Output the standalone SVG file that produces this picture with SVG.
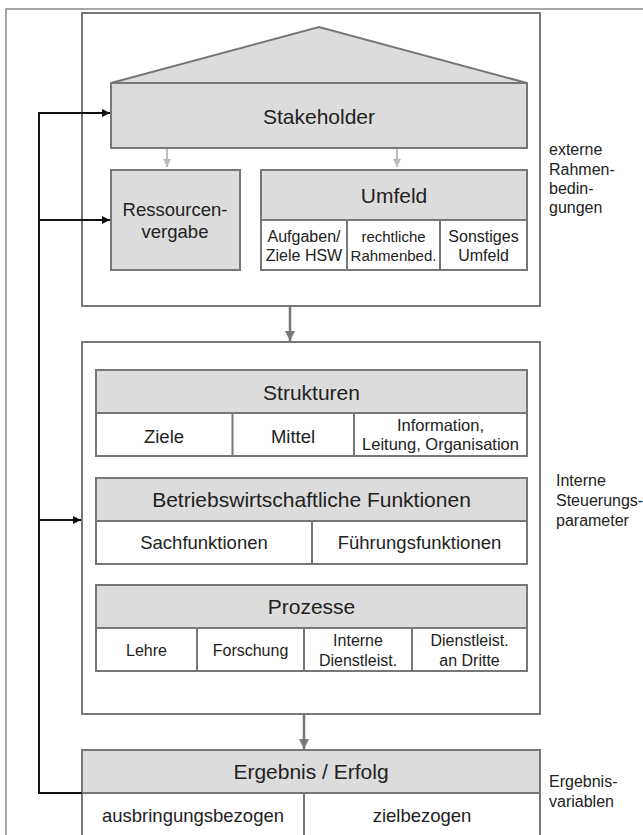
<svg xmlns="http://www.w3.org/2000/svg" width="643" height="835" viewBox="0 0 643 835">
<defs>
<style>
.frame{fill:none;stroke:#8a8a8a;stroke-width:1.5}
.box{fill:#fff;stroke:#777;stroke-width:2}
.hdr{fill:#dcdcdc;stroke:#777;stroke-width:2}
.cell{fill:#fff;stroke:#777;stroke-width:2}
.div{stroke:#777;stroke-width:2}
text{font-family:"Liberation Sans",Arial,sans-serif;fill:#222;text-anchor:middle}
.h{font-size:21px}
.m{font-size:18.5px}
.s{font-size:16px}
.lbl{font-size:16px;text-anchor:start}
.fb{fill:none;stroke:#111;stroke-width:2}
.ga{fill:none;stroke:#777;stroke-width:2.5}
.la{fill:none;stroke:#bbb;stroke-width:2}
</style>
<marker id="ab" viewBox="0 0 10 10" refX="10" refY="5" markerWidth="10" markerHeight="8" markerUnits="userSpaceOnUse" orient="auto"><path d="M0,0 L10,5 L0,10 z" fill="#111"/></marker>
<marker id="ag" viewBox="0 0 10 10" refX="10" refY="5" markerWidth="12" markerHeight="10" markerUnits="userSpaceOnUse" orient="auto"><path d="M0,0 L10,5 L0,10 z" fill="#777"/></marker>
<marker id="al" viewBox="0 0 10 10" refX="10" refY="5" markerWidth="8" markerHeight="8" markerUnits="userSpaceOnUse" orient="auto"><path d="M0,0 L10,5 L0,10 z" fill="#bbb"/></marker>
</defs>
<rect width="643" height="835" fill="#fff"/>
<path class="frame" d="M6,845 V9 H650"/>

<g id="extern">
<rect class="box" x="82" y="13" width="458" height="293"/>
</g>
<g id="stakeholder">
<path class="hdr" d="M111,83 L319,27 L527,83 Z"/>
<rect class="hdr" x="111" y="83" width="416" height="65"/>
<text class="h" x="319" y="124">Stakeholder</text>
</g>
<g id="ressourcenvergabe">
<rect class="hdr" x="111" y="170" width="129" height="100"/>
<text class="m" x="175" y="216">Ressourcen-</text>
<text class="m" x="175" y="238">vergabe</text>
</g>
<g id="umfeld">
<rect class="cell" x="261" y="170" width="266" height="100"/>
<rect class="hdr" x="261" y="170" width="266" height="50"/>
<line class="div" x1="347" y1="220" x2="347" y2="270"/>
<line class="div" x1="440" y1="220" x2="440" y2="270"/>
<text class="h" x="394" y="203">Umfeld</text>
<text class="s" x="304" y="242">Aufgaben/</text>
<text class="s" x="304" y="261">Ziele HSW</text>
<text class="s" x="393.5" y="242" style="font-size:15px">rechtliche</text>
<text class="s" x="393.5" y="261" style="font-size:15px">Rahmenbed.</text>
<text class="s" x="483.5" y="242">Sonstiges</text>
<text class="s" x="483.5" y="261">Umfeld</text>
</g>
<g id="label-extern">
<text class="lbl" x="549" y="155">externe</text>
<text class="lbl" x="549" y="175">Rahmen-</text>
<text class="lbl" x="549" y="194">bedin-</text>
<text class="lbl" x="549" y="213">gungen</text>
</g>

<g id="intern">
<rect class="box" x="82" y="342" width="458" height="372"/>
</g>
<g id="strukturen">
<rect class="cell" x="96" y="370" width="431" height="86"/>
<rect class="hdr" x="96" y="370" width="431" height="43"/>
<line class="div" x1="232.5" y1="413" x2="232.5" y2="456"/>
<line class="div" x1="354" y1="413" x2="354" y2="456"/>
<text class="h" x="311.5" y="400">Strukturen</text>
<text class="m" x="164" y="443">Ziele</text>
<text class="m" x="293" y="443">Mittel</text>
<text class="s" x="440.5" y="431" style="font-size:16.5px">Information,</text>
<text class="s" x="440.5" y="450" style="font-size:16.5px">Leitung, Organisation</text>
</g>
<g id="funktionen">
<rect class="cell" x="96" y="478" width="431" height="86"/>
<rect class="hdr" x="96" y="478" width="431" height="43"/>
<line class="div" x1="312" y1="521" x2="312" y2="564"/>
<text class="h" x="311.5" y="507">Betriebswirtschaftliche Funktionen</text>
<text class="m" x="204" y="549">Sachfunktionen</text>
<text class="m" x="419.5" y="549">Führungsfunktionen</text>
</g>
<g id="prozesse">
<rect class="cell" x="96" y="585" width="431" height="86"/>
<rect class="hdr" x="96" y="585" width="431" height="43"/>
<line class="div" x1="197" y1="628" x2="197" y2="671"/>
<line class="div" x1="304" y1="628" x2="304" y2="671"/>
<line class="div" x1="412" y1="628" x2="412" y2="671"/>
<text class="h" x="311.5" y="614">Prozesse</text>
<text class="s" x="146.5" y="656">Lehre</text>
<text class="s" x="250.5" y="656">Forschung</text>
<text class="s" x="358" y="646">Interne</text>
<text class="s" x="358" y="666">Dienstleist.</text>
<text class="s" x="469.5" y="646">Dienstleist.</text>
<text class="s" x="469.5" y="666">an Dritte</text>
</g>
<g id="label-intern">
<text class="lbl" x="556" y="486">Interne</text>
<text class="lbl" x="556" y="506">Steuerungs-</text>
<text class="lbl" x="556" y="526">parameter</text>
</g>

<g id="ergebnis">
<rect class="cell" x="82" y="750" width="458" height="100"/>
<rect class="hdr" x="82" y="750" width="458" height="43"/>
<line class="div" x1="304" y1="793" x2="304" y2="850"/>
<text class="h" x="311" y="779">Ergebnis / Erfolg</text>
<text class="m" x="193" y="822">ausbringungsbezogen</text>
<text class="m" x="422" y="822">zielbezogen</text>
</g>
<g id="label-ergebnis">
<text class="lbl" x="549" y="787">Ergebnis-</text>
<text class="lbl" x="549" y="807">variablen</text>
</g>

<g id="connectors">
<line class="la" x1="167" y1="149" x2="167" y2="167" marker-end="url(#al)"/>
<line class="la" x1="397" y1="149" x2="397" y2="167" marker-end="url(#al)"/>
<line class="ga" x1="290" y1="307" x2="290" y2="341" marker-end="url(#ag)"/>
<line class="ga" x1="304" y1="715" x2="304" y2="749" marker-end="url(#ag)"/>
<path class="fb" d="M82,793 H39 V113"/>
<line class="fb" x1="38" y1="113" x2="110" y2="113" marker-end="url(#ab)"/>
<line class="fb" x1="38" y1="220" x2="110" y2="220" marker-end="url(#ab)"/>
<line class="fb" x1="38" y1="520" x2="81" y2="520" marker-end="url(#ab)"/>
</g>
</svg>
